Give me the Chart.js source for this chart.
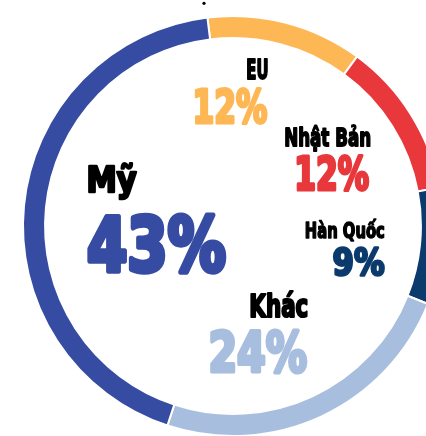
<!DOCTYPE html>
<html><head><meta charset="utf-8">
<script src="https://cdn.jsdelivr.net/npm/chart.js@4/dist/chart.umd.min.js"></script>
<style>
html,body{margin:0;padding:0;background:#fff;overflow:hidden;width:426px;height:436px}
#box{position:absolute;left:0;top:0;width:444px;height:437px}
</style></head><body>
<div id="box"><canvas id="c"></canvas></div>
<script>
// ---- data ----
const categories = ['EU', 'Nhật Bản', 'Hàn Quốc', 'Khác', 'Mỹ'];
const shares = [12, 12, 9, 24, 43];

// ---- styles / layout ----
const colors = ['#feb755', '#e8383b', '#0b3a6c', '#a8bedf', '#364ca3'];
// label boxes in page px: [left, right, capTop, baseline]
const nameBoxes = [
  [247, 268, 58.3, 80],
  [285, 370.7, 126, 146.5],
  [305, 385, 221.7, 239],
  [250, 308.3, 292.7, 318.3],
  [87.3, 137.3, 165, 193]
];
const valueBoxes = [
  [194.3, 268.3, 88.3, 125],
  [296, 370, 155, 191.7],
  [332.3, 385, 246.7, 276.7],
  [209.3, 308.3, 329.3, 373.3],
  [87.3, 226.7, 213.3, 273.3]
];
const FONT = '"Liberation Sans Narrow", "DejaVu Sans Condensed", "Liberation Sans", sans-serif';
const STROKE = 0.07;

function fitText(ctx, str, box, color) {
  const [l, r, top, base] = box;
  const test = 100;
  ctx.font = 'bold ' + test + 'px ' + FONT;
  const capRatio = ctx.measureText('H').actualBoundingBoxAscent / test;
  const h = base - top;
  const size = h / (capRatio + STROKE);
  const w = size * STROKE;
  ctx.font = 'bold ' + size + 'px ' + FONT;
  const m = ctx.measureText(str);
  const inkW = m.actualBoundingBoxLeft + m.actualBoundingBoxRight;
  const sx = (r - l) / (inkW + w);
  ctx.save();
  ctx.translate(l + (w / 2) * sx, base - w / 2);
  ctx.scale(sx, 1);
  ctx.fillStyle = color;
  ctx.strokeStyle = color;
  ctx.lineWidth = w;
  ctx.lineJoin = 'round';
  ctx.textAlign = 'left';
  ctx.textBaseline = 'alphabetic';
  ctx.fillText(str, m.actualBoundingBoxLeft, 0);
  ctx.strokeText(str, m.actualBoundingBoxLeft, 0);
  ctx.restore();
}

const labelPlugin = {
  id: 'labels',
  afterDraw(chart) {
    const ctx = chart.ctx;
    ctx.save();
    ctx.fillStyle = '#000';
    ctx.beginPath();
    ctx.arc(204, 3.3, 1.6, 0, Math.PI * 2);
    ctx.fill();
    ctx.restore();
    categories.forEach((name, i) => {
      fitText(ctx, name, nameBoxes[i], '#000');
      fitText(ctx, shares[i] + '%', valueBoxes[i], colors[i]);
    });
  }
};

new Chart(document.getElementById('c'), {
  type: 'doughnut',
  data: {
    labels: categories,
    datasets: [{
      data: shares,
      backgroundColor: colors,
      borderColor: '#ffffff',
      borderWidth: 2,
      hoverOffset: 0
    }]
  },
  options: {
    responsive: true,
    maintainAspectRatio: false,
    animation: false,
    events: [],
    rotation: -7,
    cutout: '89.5%',
    layout: { padding: { left: 22, top: 15, right: 0, bottom: 0 } },
    plugins: { legend: { display: false }, tooltip: { enabled: false } }
  },
  plugins: [labelPlugin]
});
</script>
</body></html>
